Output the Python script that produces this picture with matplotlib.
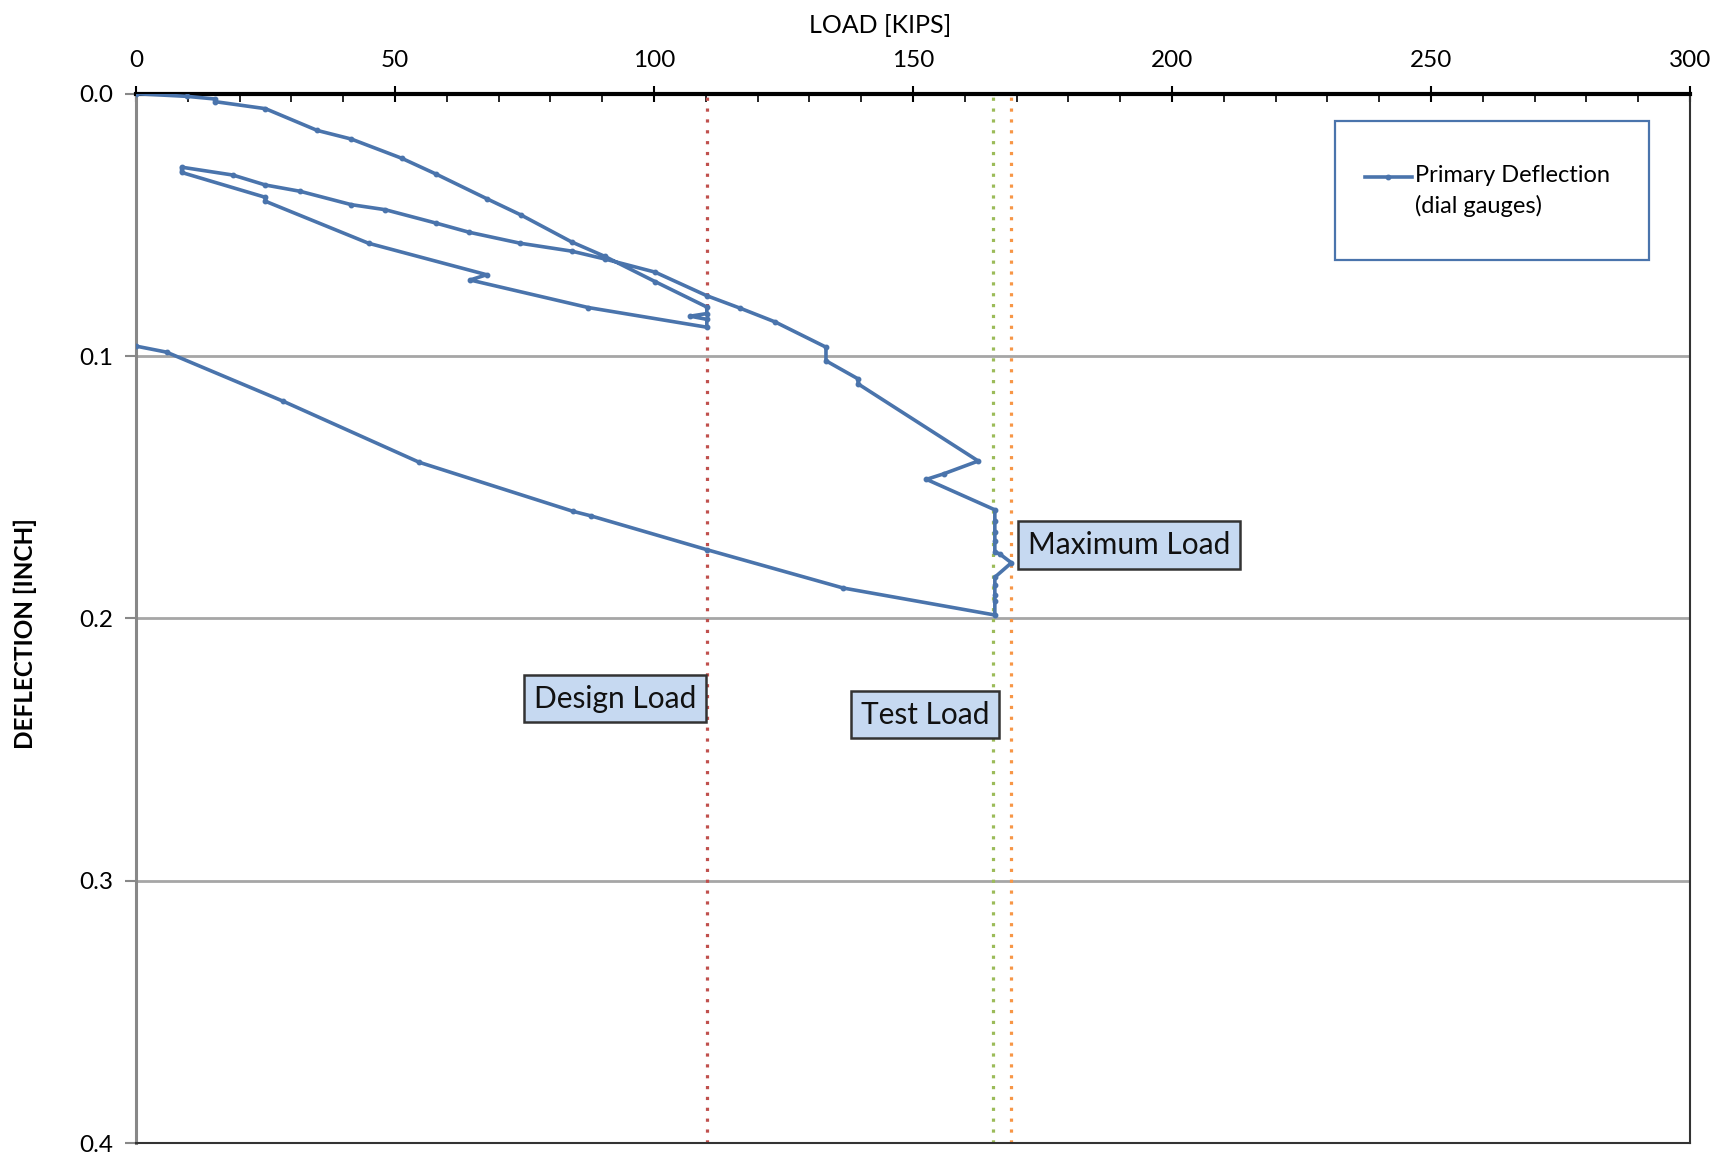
import matplotlib
matplotlib.use("Agg")
import numpy as np
import matplotlib.pyplot as plt
from matplotlib.patches import Rectangle
from matplotlib.ticker import MultipleLocator
from matplotlib.legend_handler import HandlerLine2D

plt.rcParams['font.family'] = ['Lato', 'DejaVu Sans']

# load test readings (kips, inch)
load = [0, 9.8, 15.2, 15.2, 25.0, 35.0, 41.6, 51.3, 57.9, 67.7, 74.4, 84.1, 90.5,
        100.2, 110.2, 110.2, 107.0, 110.2, 110.2, 87.3, 64.5, 67.7, 44.9, 25.0,
        25.0, 8.8, 8.8, 18.7, 25.0, 31.7, 41.6, 48.1, 57.9, 64.3, 74.2, 84.1,
        90.5, 100.2, 110.2, 116.7, 123.4, 133.2, 133.2, 139.4, 139.4, 162.6,
        155.9, 152.6, 165.8, 165.8, 165.8, 165.8, 165.8, 166.8, 169.0, 165.8,
        165.8, 165.8, 165.8, 165.8, 136.5, 110.2, 87.8, 84.4, 54.7, 28.4, 5.9, 0]
defl = [0, 0.001, 0.002, 0.003, 0.0057, 0.014, 0.0173, 0.0246, 0.0306, 0.040,
        0.0463, 0.0565, 0.062, 0.0716, 0.0813, 0.0838, 0.0848, 0.086, 0.089,
        0.0815, 0.071, 0.069, 0.057, 0.041, 0.0395, 0.030, 0.028, 0.031, 0.0348,
        0.0372, 0.0423, 0.0442, 0.0493, 0.0528, 0.057, 0.060, 0.063, 0.068,
        0.077, 0.0818, 0.087, 0.0966, 0.1018, 0.1087, 0.1106, 0.140, 0.1449,
        0.147, 0.1586, 0.163, 0.167, 0.1705, 0.1746, 0.1755, 0.1788, 0.1843,
        0.1873, 0.191, 0.1935, 0.1987, 0.1884, 0.1738, 0.1609, 0.1592, 0.1405,
        0.1172, 0.0985, 0.0962]

ref_names = ["Design Load", "Test Load", "Maximum Load"]
ref_loads = [110.2, 165.5, 169.0]
ref_colors = ["#c0504d", "#9bbb59", "#f79646"]
# where the boxed labels sit (load, deflection)
label_pos = [(92.5, 0.2306), (152.3, 0.2367), (191.7, 0.172)]


class TopLineHandler(HandlerLine2D):
    # put the legend line level with the first text line
    def create_artists(self, legend, orig_handle, xdescent, ydescent, width,
                       height, fontsize, trans):
        arts = super().create_artists(legend, orig_handle, xdescent, ydescent,
                                      width, height, fontsize, trans)
        for a in arts:
            a.set_ydata(np.asarray(a.get_ydata()) + 10)
        return arts


fig = plt.figure(figsize=(17.21, 11.57), dpi=100)
ax = fig.add_axes([0.079, 0.012, 0.903, 0.907])

for x, c in zip(ref_loads, ref_colors):
    ax.axvline(x, color=c, lw=2.3, ls=(0, (1, 2.4)), zorder=2)

line, = ax.plot(load, defl, color="#4a74ac", lw=2.6, marker="o", ms=3.2,
                label="Primary Deflection\n(dial gauges)", zorder=3)

for name, (x, y) in zip(ref_names, label_pos):
    ax.text(x, y, name, fontsize=21.5, ha="center", va="center", color="#111111",
            bbox=dict(boxstyle="square,pad=0.32", fc="#c6d9f1", ec="#333333", lw=1.8),
            zorder=5)

ax.set_xlim(0, 300)
ax.set_ylim(0.4, 0)
ax.xaxis.tick_top()
ax.xaxis.set_label_position("top")
ax.xaxis.set_major_locator(MultipleLocator(50))
ax.xaxis.set_minor_locator(MultipleLocator(10))
ax.yaxis.set_major_locator(MultipleLocator(0.1))
ax.yaxis.set_major_formatter(plt.FuncFormatter(lambda v, p: f"{v:.1f}"))
ax.tick_params(axis="x", which="major", direction="inout", length=12, width=1.5,
               labelsize=17.5, pad=10)
ax.tick_params(axis="x", which="minor", direction="in", length=6, width=1.2)
ax.tick_params(axis="y", direction="out", length=8, width=1.5, color="#888888",
               labelsize=17.5, pad=8)

ax.set_xlabel("LOAD [KIPS]", fontsize=18)
ax.xaxis.set_label_coords(0.479, 1.058)
ax.set_ylabel("DEFLECTION [INCH]", fontsize=17.5, fontweight="bold")
ax.yaxis.set_label_coords(-0.0635, 0.486)

ax.grid(axis="y", color="#a6a6a6", lw=2)
ax.spines["top"].set_linewidth(3)
ax.spines["top"].set_color("black")
ax.spines["left"].set_color("#888888")
ax.spines["left"].set_linewidth(2.2)
ax.spines["bottom"].set_color("#333333")
ax.spines["bottom"].set_linewidth(1.5)
ax.spines["right"].set_color("#333333")
ax.spines["right"].set_linewidth(1.5)

ax.add_patch(Rectangle((0.7716, 0.842), 0.202, 0.132, transform=ax.transAxes,
                       fill=False, ec="#4a74ac", lw=1.6, zorder=4))
leg = ax.legend(loc="upper left", bbox_to_anchor=(0.777, 0.952), frameon=False,
                fontsize=17, handlelength=2.0, handletextpad=0.15,
                handler_map={line: TopLineHandler()})
for t in leg.get_texts():
    t.set_linespacing(1.45)

fig.savefig("out.png", dpi=100)
